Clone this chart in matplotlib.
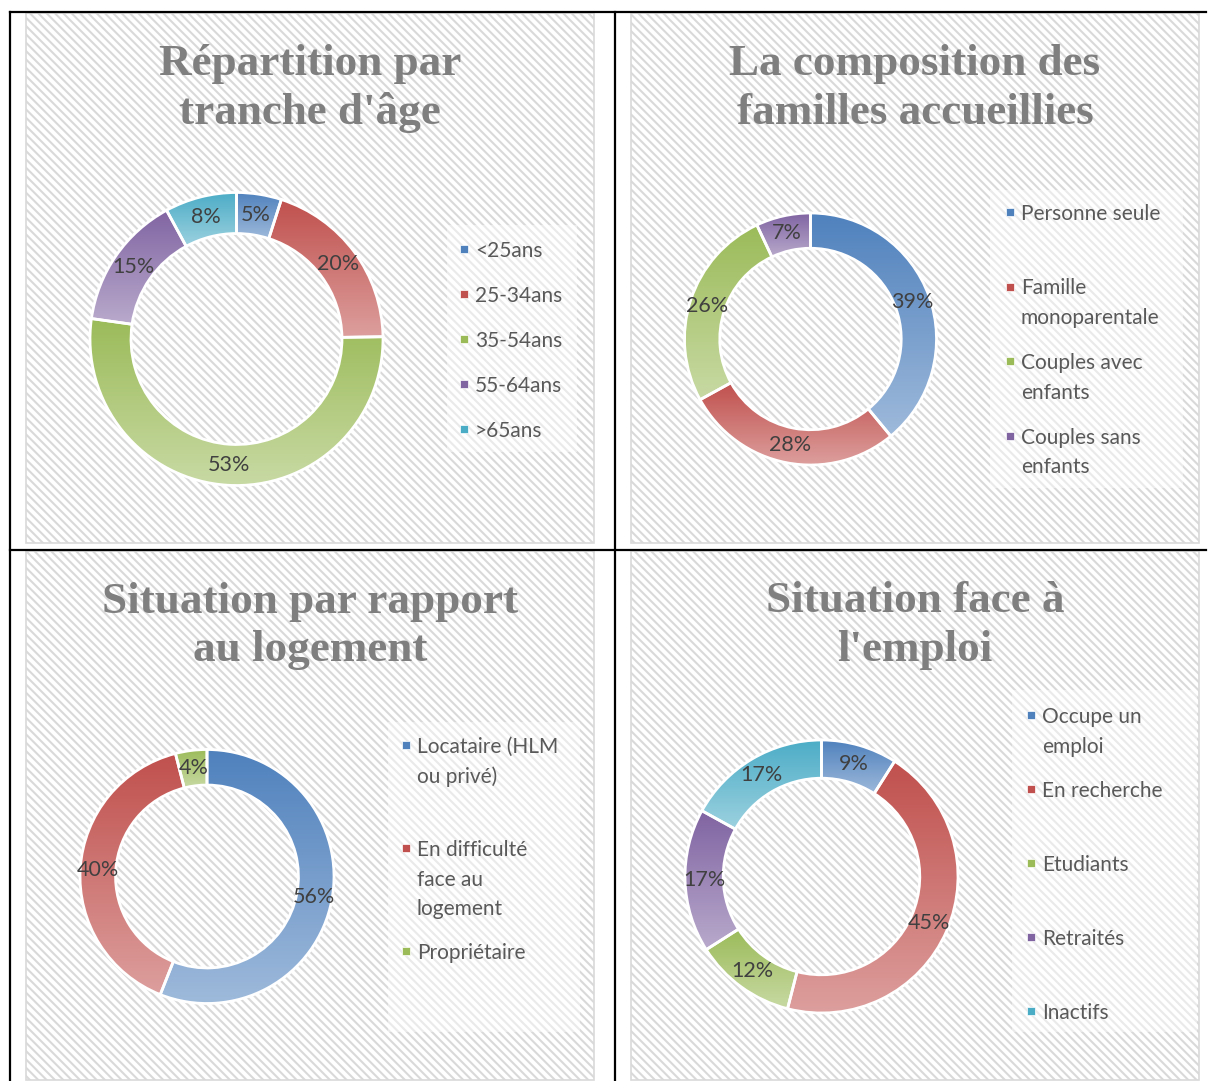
import numpy as np
import matplotlib
matplotlib.use("Agg")
import matplotlib.pyplot as plt
from matplotlib.patches import Rectangle
from matplotlib.colors import LinearSegmentedColormap, to_rgb

# data (percent)
age_labels = ["<25ans", "25-34ans", "35-54ans", "55-64ans", ">65ans"]
age_values = [5, 20, 53, 15, 8]

famille_labels = ["Personne seule", "Famille\nmonoparentale", "Couples avec\nenfants", "Couples sans\nenfants"]
famille_values = [39, 28, 26, 7]

logement_labels = ["Locataire (HLM\nou privé)", "En difficulté\nface au\nlogement", "Propriétaire"]
logement_values = [56, 40, 4]

emploi_labels = ["Occupe un\nemploi", "En recherche", "Etudiants", "Retraités", "Inactifs"]
emploi_values = [9, 45, 12, 17, 17]

titles = ["Répartition par\ntranche d'âge",
          "La composition des\nfamilles accueillies",
          "Situation par rapport\nau logement",
          "Situation face à\nl'emploi"]

colors = ["#4F81BD", "#C0504D", "#9BBB59", "#8064A2", "#4BACC6"]

W, H = 1208, 1081
HOLE = 0.28
TEXT_FONT = "Lato"
TITLE_FONT = "Liberation Serif"

plt.rcParams["hatch.linewidth"] = 1.5

fig = plt.figure(figsize=(W / 100, H / 100), dpi=100)
fig.patch.set_facecolor("white")

# background axes in pixel coords (y down)
bg = fig.add_axes([0, 0, 1, 1], zorder=0)
bg.set_xlim(0, W)
bg.set_ylim(H, 0)
bg.axis("off")


def lighter(c, f=0.45):
    r, g, b = to_rgb(c)
    return (r + (1 - r) * f, g + (1 - g) * f, b + (1 - b) * f)


def draw_chart(panel, title, labels, values, center, R, leg_box, leg_x, leg_y, slot):
    x0, y0, x1, y1 = panel
    # hatched panel
    bg.add_patch(Rectangle((x0, y0), x1 - x0, y1 - y0, facecolor="white",
                           edgecolor="#d9d9d9", hatch="\\\\\\\\", linewidth=0))
    bg.add_patch(Rectangle((x0, y0), x1 - x0, y1 - y0, facecolor="none",
                           edgecolor="#d9d9d9", linewidth=1.2))

    # title
    for i, line in enumerate(title.split("\n")):
        bg.text((x0 + x1) / 2, y0 + 46 + i * 49, line, ha="center", va="center_baseline",
                fontsize=32.5, fontweight="bold", family=TITLE_FONT, color="#7F7F7F")

    # legend
    lx0, ly0, lx1, ly1 = leg_box
    bg.add_patch(Rectangle((lx0, ly0), lx1 - lx0, ly1 - ly0, facecolor="white",
                           edgecolor="none", alpha=0.45))
    for i, lab in enumerate(labels):
        y = leg_y + i * slot
        bg.add_patch(Rectangle((leg_x - 4, y - 4), 8, 8, facecolor=colors[i],
                               edgecolor="white", linewidth=0.5))
        for j, part in enumerate(lab.split("\n")):
            bg.text(leg_x + 11, y + j * 29.7, part, ha="left", va="center_baseline",
                    fontsize=15, family=TEXT_FONT, color="#595959")

    # donut
    cx, cy = center
    s = 1.1 * R
    ax = fig.add_axes([(cx - s) / W, 1 - (cy + s) / H, 2 * s / W, 2 * s / H], zorder=1)
    ax.patch.set_alpha(0)
    wedges, _ = ax.pie(values, colors=colors[:len(values)], startangle=90, counterclock=False,
                       radius=1, wedgeprops=dict(width=HOLE, edgecolor="white", linewidth=2))
    grad = np.linspace(0, 1, 256).reshape(-1, 1)
    for w, c, v in zip(wedges, colors, values):
        ext = w.get_path().get_extents()
        cmap = LinearSegmentedColormap.from_list("g", [to_rgb(c), lighter(c)])
        im = ax.imshow(grad, cmap=cmap, extent=(ext.x0, ext.x1, ext.y0, ext.y1),
                       origin="upper", aspect="auto", interpolation="bilinear", zorder=1)
        im.set_clip_path(w)
        w.set_facecolor("none")
        w.set_zorder(2)
        ang = np.deg2rad((w.theta1 + w.theta2) / 2)
        r = 1 - HOLE / 2
        ax.text(r * np.cos(ang), r * np.sin(ang), f"{v}%", ha="center", va="center",
                fontsize=15.5, family=TEXT_FONT, color="#404040", zorder=3)
    ax.set_xlim(-1.1, 1.1)
    ax.set_ylim(-1.1, 1.1)
    ax.set_aspect("equal")
    ax.axis("off")


draw_chart((26, 13, 594, 543), titles[0], age_labels, age_values,
           (236.5, 339), 146.5, (447, 225, 577, 452), 464, 249, 45)
draw_chart((631, 13, 1199, 543), titles[1], famille_labels, famille_values,
           (810.5, 339), 126, (990, 190, 1183, 488), 1010, 212, 74.5)
draw_chart((26, 551, 594, 1080), titles[2], logement_labels, logement_values,
           (207, 876.5), 127, (388, 722, 580, 1032), 406, 745, 103)
draw_chart((631, 551, 1199, 1080), titles[3], emploi_labels, emploi_values,
           (821.5, 876.5), 136.5, (1012, 690, 1197, 1032), 1031, 715, 74)

# table borders
bg.plot([10, 10], [12, H], color="black", linewidth=1.6, zorder=5)
bg.plot([614.5, 614.5], [12, H], color="black", linewidth=1.6, zorder=5)
bg.plot([10, 1206], [12, 12], color="black", linewidth=1.6, zorder=5)
bg.plot([10, 1206], [550, 550], color="black", linewidth=1.6, zorder=5)

fig.savefig("out.png", dpi=100)
